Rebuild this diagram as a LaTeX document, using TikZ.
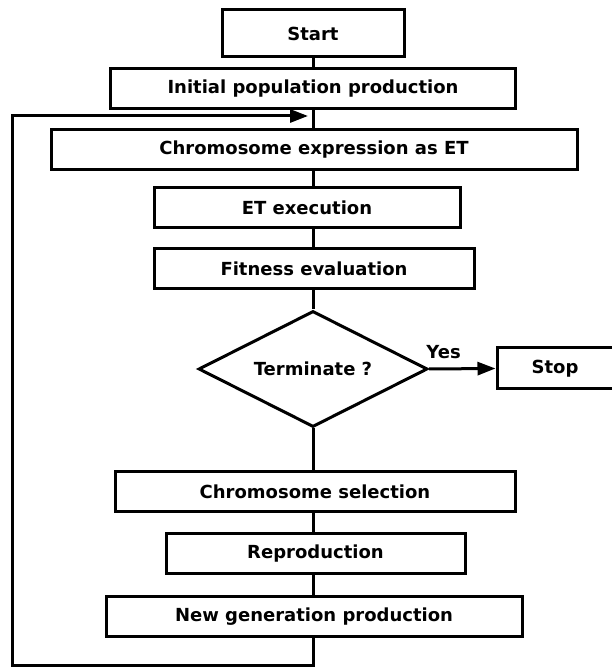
\documentclass[tikz,border=0pt]{standalone}
\usepackage{fontspec}
\setmainfont{DejaVu Sans}
\usetikzlibrary{arrows.meta,shapes.geometric}

\begin{document}
\begin{tikzpicture} [x=1pt,y=1pt,line width=3pt,
	box/.style={draw,rectangle,inner sep=0pt,minimum height=40pt,font=\fontsize{18}{20}\selectfont\bfseries},
	test/.style={draw,diamond,aspect=1.97,inner sep=0pt,minimum width=229pt,minimum height=116pt,font=\fontsize{18}{20}\selectfont\bfseries},
	arr/.style={-{Triangle[length=18pt,width=13pt]}}]
			\useasboundingbox (0,0) rectangle (611,668);
			
			\node[box,minimum width=182pt,minimum height=47pt] (start) at (313,634.5) {Start};
			\node[box,minimum width=405pt] (init) at (313,579) {Initial population production};
			\node[box,minimum width=526pt] (expr) at (314,518) {Chromosome expression as ET};
			\node[box,minimum width=306pt] (exec) at (307,460.5) {ET execution};
			\node[box,minimum width=320pt] (fit) at (314,399) {Fitness evaluation};
			\node[test] (term) at (313,299) {Terminate ?};
			\node[box,minimum width=130pt,minimum height=41pt] (stop) at (562,299.5) {\hspace*{-14pt}Stop};
			\node[box,minimum width=400pt] (sel) at (315,176.5) {Chromosome selection};
			\node[box,minimum width=299pt] (repr) at (315.5,114) {Reproduction};
			\node[box,minimum width=416pt] (newgen) at (314,51) {New generation production};
			
			\coordinate (back) at (313,552);
			\coordinate (low) at (313,2);
			
			\draw (start.south -| back) -- (init.north -| back);
			\draw (init.south -| back) -- (expr.north -| back);
			\draw (expr.south -| back) -- (exec.north -| back);
			\draw (exec.south -| back) -- (fit.north -| back);
			\draw (fit.south -| back) -- (term.north);
			\draw (term.south) -- (sel.north -| back);
			\draw (sel.south -| back) -- (repr.north -| back);
			\draw (repr.south -| back) -- (newgen.north -| back);
			
			\draw[arr] (term.east) -- node[above,pos=0.22,yshift=5pt,font=\fontsize{18}{20}\selectfont\bfseries] (yes) {Yes} (stop.west);
			\draw[arr] (newgen.south -| back) -- (low) -| (12,552) -- ([xshift=-5pt]back);
			\end{tikzpicture}
\end{document}
